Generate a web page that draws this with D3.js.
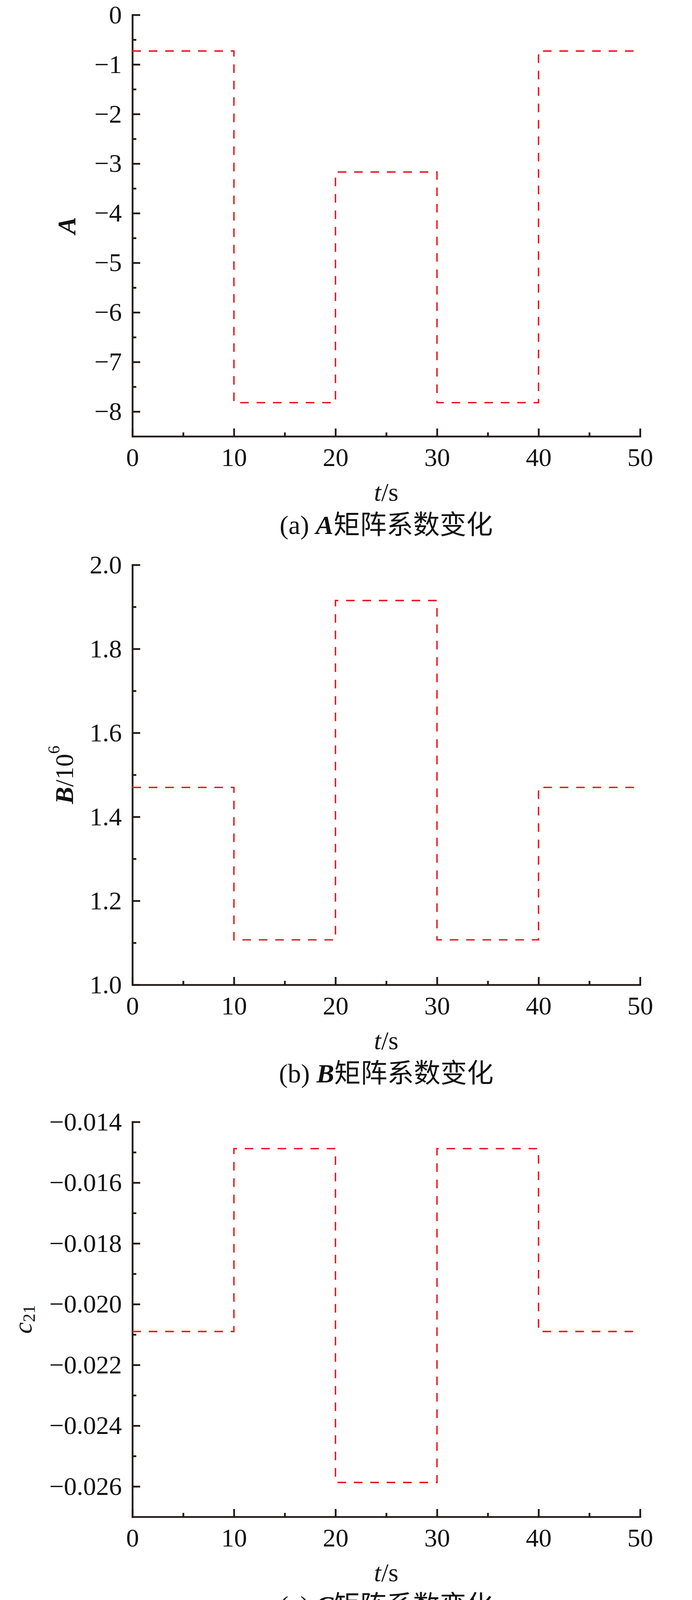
<!DOCTYPE html>
<html>
<head>
<meta charset="utf-8">
<script src="https://cdn.jsdelivr.net/npm/d3@7"></script>
<style>
  html, body { margin: 0; padding: 0; background: #fff; }
  svg { display: block; }
  text { font-family: "Liberation Serif", "Noto Sans CJK SC", serif; fill: #111; }
</style>
</head>
<body>
<svg id="chart"></svg>
<script>
// step change times (s)
const tBreaks = [0, 10, 20, 30, 40, 50];
const xTicks = [0, 10, 20, 30, 40, 50];
const xMinor = [5, 15, 25, 35, 45];

// coefficient level in each 10 s segment
const aLevels = [-0.73, -7.82, -3.17, -7.82, -0.73];
const bLevels = [1.47, 1.107, 1.915, 1.107, 1.47];
const cLevels = [-0.0209, -0.01488, -0.02587, -0.01488, -0.0209];
const dLevels = [5.52, 1.335, 2.48, 1.335, 5.52];

// y tick values
const aTicks = [0, -1, -2, -3, -4, -5, -6, -7, -8];
const aMinor = [-0.5, -1.5, -2.5, -3.5, -4.5, -5.5, -6.5, -7.5];
const bTicks = [1.0, 1.2, 1.4, 1.6, 1.8, 2.0];
const bMinor = [1.1, 1.3, 1.5, 1.7, 1.9];
const cTicks = [-0.014, -0.016, -0.018, -0.020, -0.022, -0.024, -0.026];
const cMinor = [-0.015, -0.017, -0.019, -0.021, -0.023, -0.025];
const dTicks = [1, 2, 3, 4, 5, 6];
const dMinor = [1.5, 2.5, 3.5, 4.5, 5.5];

const W = 1772, H = 5577;
const left = 339, right = 1639;
const axisColor = "#231815";
const lineColor = "#e8141c";

const panels = [
  { levels: aLevels, domain: [-8.5, 0], ticks: aTicks, minor: aMinor, fmt: d3.format("d"),
    top: 38, bottom: 1117, labelX: 170, tag: "(a) ", mat: "A",
    ylabel: [{ t: "A", s: "bi" }] },
  { levels: bLevels, domain: [1.0, 2.0], ticks: bTicks, minor: bMinor, fmt: d3.format(".1f"),
    top: 1446, bottom: 2521, labelX: 164, tag: "(b) ", mat: "B",
    ylabel: [{ t: "B", s: "bi" }, { t: "/10", s: "r" }, { t: "6", s: "sup" }] },
  { levels: cLevels, domain: [-0.027, -0.014], ticks: cTicks, minor: cMinor, fmt: d3.format(".3f"),
    top: 2872, bottom: 3883, labelX: 58, tag: "(c) ", mat: "C",
    ylabel: [{ t: "c", s: "i" }, { t: "21", s: "sub" }] },
  { levels: dLevels, domain: [1, 6], ticks: dTicks, minor: dMinor, fmt: d3.format("d"),
    top: 4219, bottom: 5298, labelX: 218, tag: "(d) ", mat: "D",
    ylabel: [{ t: "d", s: "i" }, { t: "21", s: "sub" }, { t: "/10", s: "r" }, { t: "4", s: "sup" }] }
];

const svg = d3.select("#chart")
  .attr("width", W)
  .attr("height", H)
  .attr("viewBox", `0 0 ${W} ${H}`);

svg.append("rect").attr("width", W).attr("height", H).attr("fill", "#fff");

const x = d3.scaleLinear().domain([0, 50]).range([left, right]);

panels.forEach(p => {
  const y = d3.scaleLinear().domain(p.domain).range([p.bottom, p.top]);
  const g = svg.append("g");

  // minor ticks first
  g.append("g")
    .attr("transform", `translate(${left},0)`)
    .call(d3.axisLeft(y).tickValues(p.minor).tickSize(-10).tickSizeOuter(0).tickFormat(""))
    .call(a => a.select(".domain").remove());
  g.append("g")
    .attr("transform", `translate(0,${p.bottom})`)
    .call(d3.axisBottom(x).tickValues(xMinor).tickSize(-10).tickSizeOuter(0).tickFormat(""))
    .call(a => a.select(".domain").remove());

  // y axis
  g.append("g")
    .attr("transform", `translate(${left},0)`)
    .call(d3.axisLeft(y).tickValues(p.ticks).tickSize(-20).tickSizeOuter(0).tickPadding(27).tickFormat(p.fmt));

  // x axis
  g.append("g")
    .attr("transform", `translate(0,${p.bottom})`)
    .call(d3.axisBottom(x).tickValues(xTicks).tickSize(-20).tickSizeOuter(0).tickPadding(29));

  g.selectAll(".domain").attr("stroke", axisColor).attr("stroke-width", 4.5).attr("stroke-linecap", "square");
  g.selectAll(".tick line").attr("stroke", axisColor).attr("stroke-width", 4.5);
  g.selectAll(".tick text").attr("font-size", 66).attr("fill", "#111")
    .style("font-family", '"Liberation Serif", serif');

  // step line
  const pts = p.levels.map((v, i) => ({ t: tBreaks[i], v }));
  pts.push({ t: tBreaks[tBreaks.length - 1], v: p.levels[p.levels.length - 1] });
  const line = d3.line().x(d => x(d.t)).y(d => y(d.v)).curve(d3.curveStepAfter);
  g.append("path")
    .datum(pts)
    .attr("d", line)
    .attr("fill", "none")
    .attr("stroke", lineColor)
    .attr("stroke-width", 3.6)
    .attr("stroke-dasharray", "22,20");

  // y label
  const cy = (p.top + p.bottom) / 2;
  const yl = g.append("text")
    .attr("transform", `translate(${p.labelX},${cy}) rotate(-90)`)
    .attr("text-anchor", "middle")
    .attr("dominant-baseline", "central")
    .attr("font-size", 66);
  let shifted = 0;
  p.ylabel.forEach(part => {
    const ts = yl.append("tspan").text(part.t);
    if (part.s === "bi") ts.attr("font-weight", "bold").attr("font-style", "italic");
    if (part.s === "i") ts.attr("font-style", "italic");
    let dy = 0;
    if (part.s === "sub") { ts.attr("font-size", 44); dy = 16 - shifted; shifted = 16; }
    else if (part.s === "sup") { ts.attr("font-size", 42); dy = -26 - shifted; shifted = -26; }
    else { dy = -shifted; shifted = 0; }
    if (dy !== 0) ts.attr("dy", dy);
  });

  // x label
  const xl = g.append("text")
    .attr("x", (left + right) / 2)
    .attr("y", p.bottom + 142)
    .attr("text-anchor", "middle")
    .attr("dominant-baseline", "central")
    .attr("font-size", 66);
  xl.append("tspan").attr("font-style", "italic").text("t");
  xl.append("tspan").text("/s");

  // caption
  const cap = g.append("text")
    .attr("x", (left + right) / 2)
    .attr("y", p.bottom + 227)
    .attr("text-anchor", "middle")
    .attr("dominant-baseline", "central")
    .attr("font-size", 68);
  cap.append("tspan").text(p.tag);
  cap.append("tspan").attr("font-weight", "bold").attr("font-style", "italic").text(p.mat);
  cap.append("tspan").text("矩阵系数变化");
});
</script>
</body>
</html>
